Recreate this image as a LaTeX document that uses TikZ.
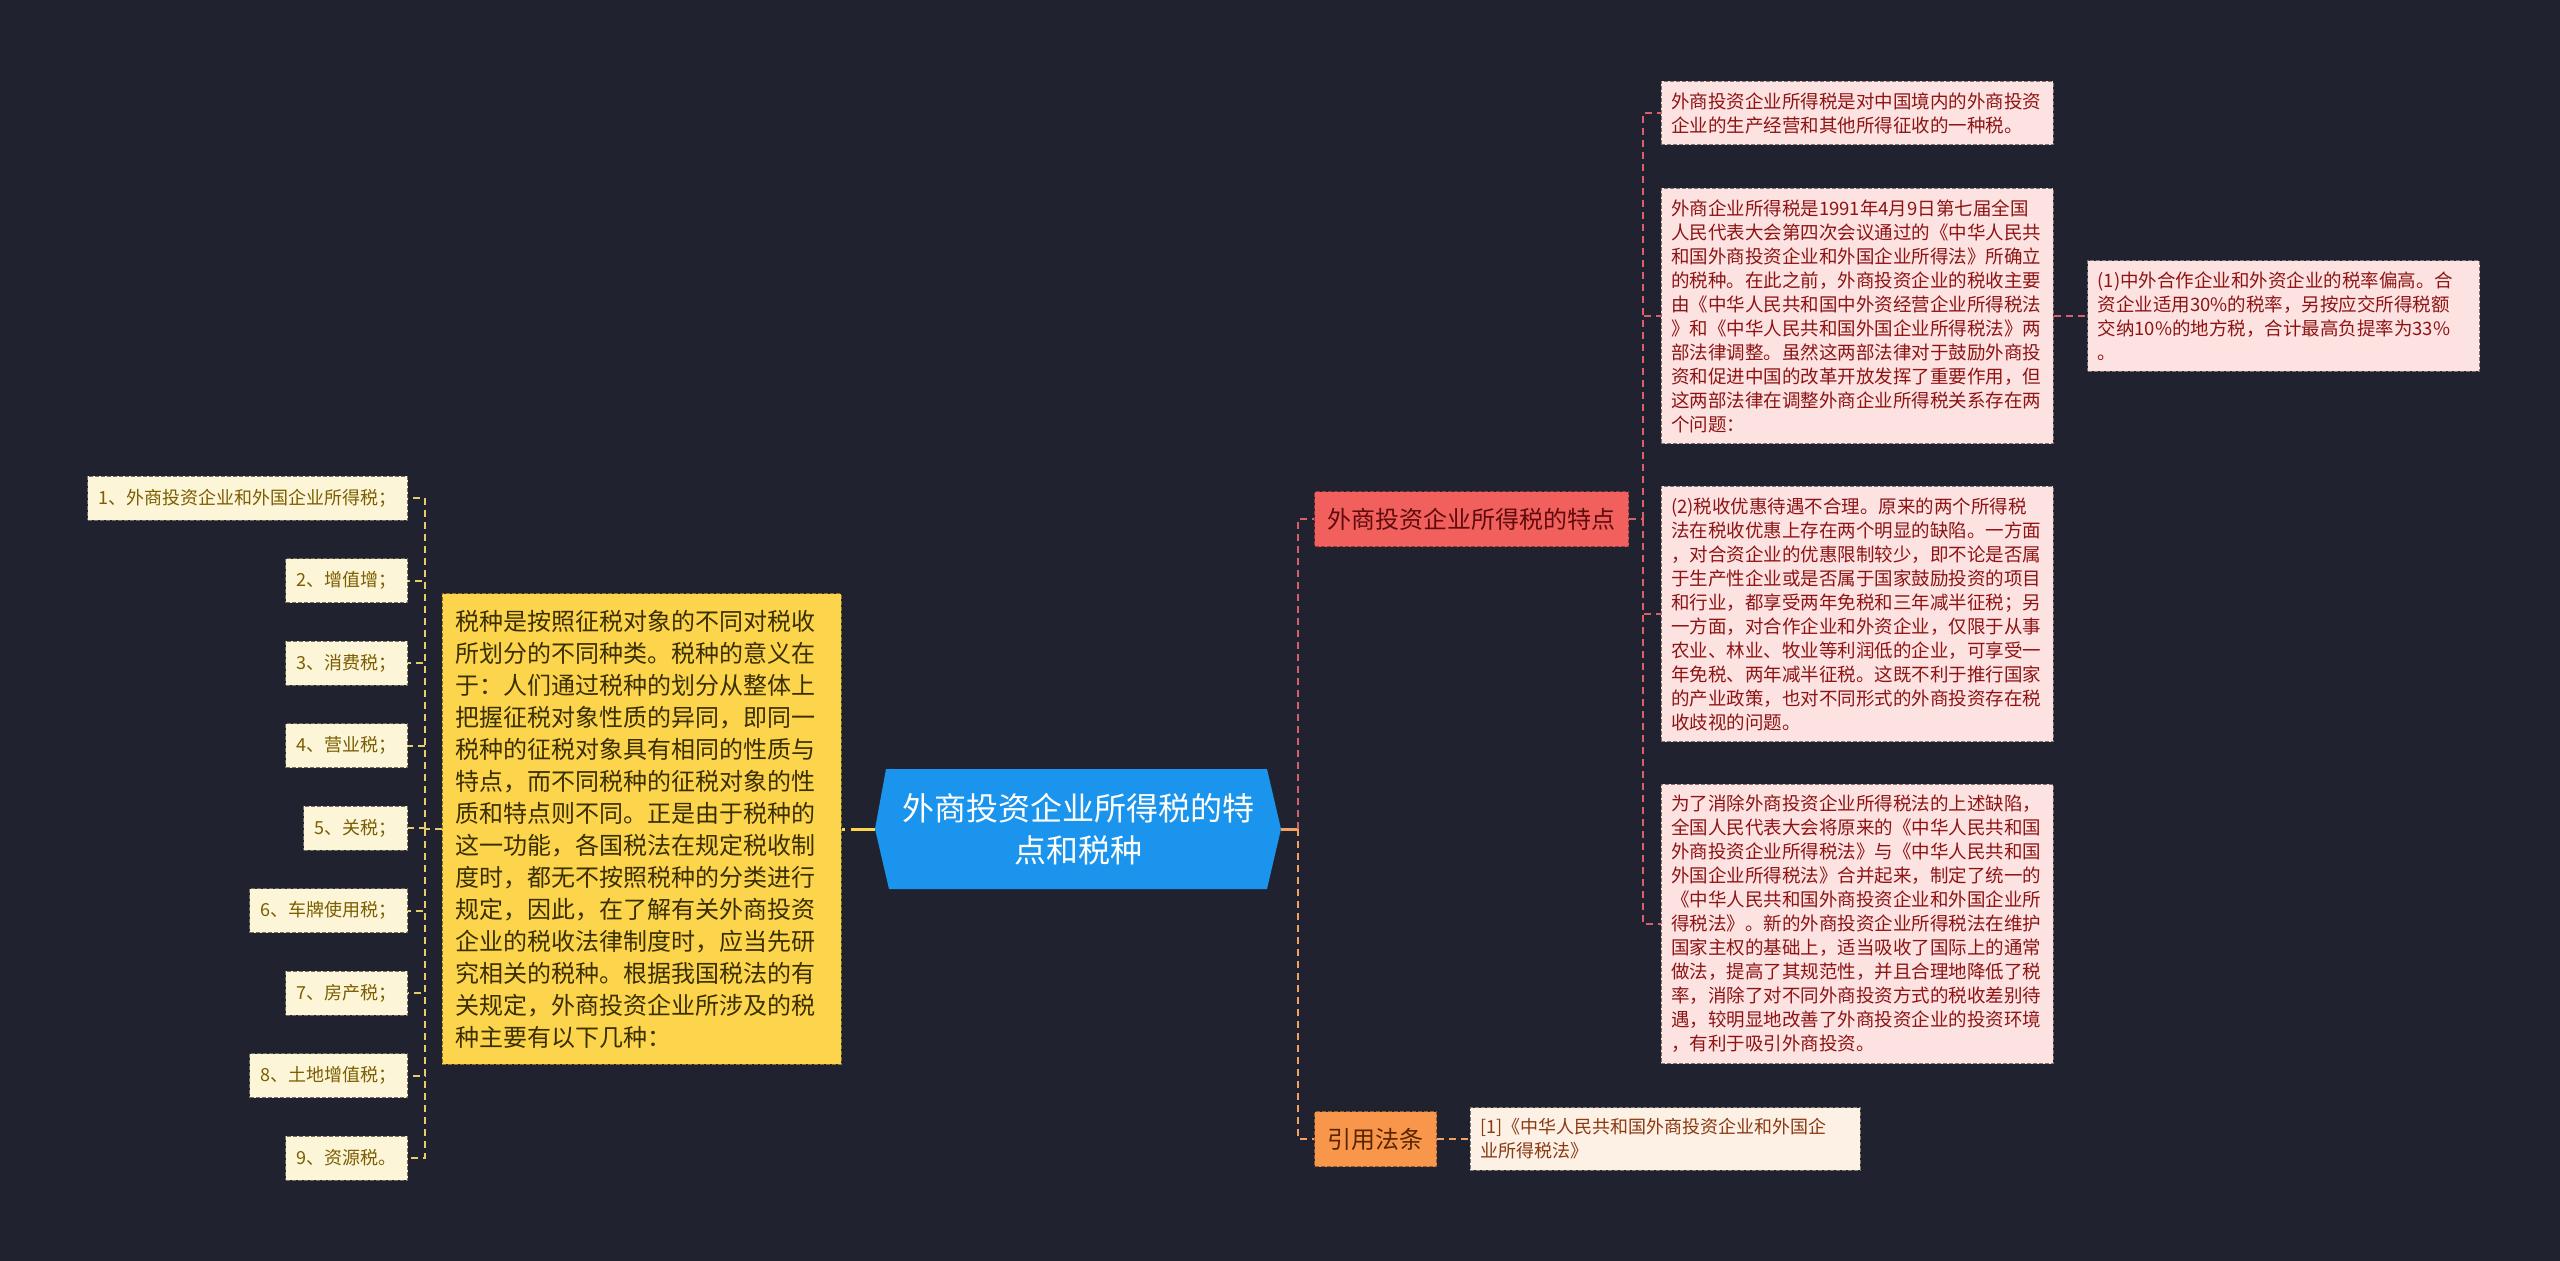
\documentclass[tikz,border=0pt]{standalone}
\usepackage{fontspec}
\setmainfont{Noto Sans CJK SC}
\definecolor{canvas}{HTML}{20232F}
\definecolor{rootblue}{HTML}{1A94EC}
\definecolor{kindyellow}{HTML}{FDD54C}
\definecolor{kindtext}{HTML}{3A2F00}
\definecolor{taxfill}{HTML}{FDF5D8}
\definecolor{taxtext}{HTML}{7A5E00}
\definecolor{featred}{HTML}{F2605E}
\definecolor{feattext}{HTML}{5E0B0B}
\definecolor{citeorange}{HTML}{F8964C}
\definecolor{citetext}{HTML}{5A2600}
\definecolor{notefill}{HTML}{FDE2E2}
\definecolor{notetext}{HTML}{8E1414}
\definecolor{reffill}{HTML}{FDF0E4}
\definecolor{reftext}{HTML}{8A3A12}
\definecolor{linkyellow}{HTML}{E8CB6A}
\definecolor{linkred}{HTML}{D9606A}
\definecolor{linkorange}{HTML}{F2A262}

\begin{document}
\begin{tikzpicture}[
  x=1pt,y=-1pt,
  box/.style={dash pattern=on 4pt off 2pt,line width=1pt,inner sep=0pt},
  rootnode/.style={minimum width=406pt,minimum height=120pt,inner sep=0pt,
    align=center,text=white,font=\fontsize{32}{42}\selectfont},
  kindbox/.style={box,draw=kindyellow!55!black,fill=kindyellow,text=kindtext,
    text width=373pt,inner xsep=13pt,inner ysep=16pt,align=left,
    font=\fontsize{24}{32}\selectfont},
  taxleaf/.style={box,draw=taxfill!45!black,fill=taxfill,text=taxtext,
    minimum height=44pt,inner xsep=11pt,font=\fontsize{18}{24}\selectfont},
  branch/.style={box,minimum height=55pt,inner xsep=13pt,font=\fontsize{24}{30}\selectfont},
  note/.style={box,draw=notefill!50!black,fill=notefill,text=notetext,
    text width=372pt,inner xsep=10pt,inner ysep=11pt,align=left,
    font=\fontsize{18.5}{24}\selectfont},
  refnote/.style={note,draw=reffill!50!black,fill=reffill,text=reftext,
    text width=370pt,font=\fontsize{18}{24}\selectfont},
  link/.style={line width=2pt,dash pattern=on 7pt off 5pt},
  trunk/.style={line width=3pt}
]
  \useasboundingbox[fill=canvas] (0,0) rectangle (2560,1261);

  % centre
  \node[rootnode,path picture={\fill[rootblue]
      ([xshift=11pt]path picture bounding box.north west) --
      ([xshift=-14pt]path picture bounding box.north east) --
      (path picture bounding box.east) --
      ([xshift=-14pt]path picture bounding box.south east) --
      ([xshift=14pt]path picture bounding box.south west) --
      (path picture bounding box.west) -- cycle;}]
    (root) at (1078,829) {外商投资企业所得税的特\\点和税种};

  % left side: kinds of tax
  \node[kindbox] (kinds) at (641.5,829) {税种是按照征税对象的不同对税收\\所划分的不同种类。税种的意义在\\于：人们通过税种的划分从整体上\\把握征税对象性质的异同，即同一\\税种的征税对象具有相同的性质与\\特点，而不同税种的征税对象的性\\质和特点则不同。正是由于税种的\\这一功能，各国税法在规定税收制\\度时，都无不按照税种的分类进行\\规定，因此，在了解有关外商投资\\企业的税收法律制度时，应当先研\\究相关的税种。根据我国税法的有\\关规定，外商投资企业所涉及的税\\种主要有以下几种：};
  \foreach \txt [count=\k] in {1、外商投资企业和外国企业所得税；,2、增值增；,3、消费税；,
      4、营业税；,5、关税；,6、车牌使用税；,7、房产税；,8、土地增值税；,9、资源税。}
    \node[taxleaf,anchor=east] (tax\k) at (408,{415.5+82.5*\k}) {\txt};

  \coordinate (lj) at (425,829);
  \draw[trunk,kindyellow,dash pattern=on 24pt off 6pt] (root.west) -- (kinds);
  \draw[link,linkyellow] (kinds) -- (lj);
  \foreach \k in {1,...,9}
    \draw[link,linkyellow] (lj) |- (tax\k);

  % right side: branches
  \node[branch,draw=featred!60!black,fill=featred,text=feattext,anchor=west]
    (feat) at (1314,519) {外商投资企业所得税的特点};
  \node[branch,draw=citeorange!60!black,fill=citeorange,text=citetext,anchor=west]
    (cite) at (1314,1139) {引用法条};

  \coordinate (rj) at (1298,829);
  \draw[trunk,linkorange] (root.east) -- (rj);
  \draw[link,linkred] (rj) |- (feat);
  \draw[link,linkorange] (rj) |- (cite);

  % features
  \node[note] (define) at (1857,113) {外商投资企业所得税是对中国境内的外商投资\\企业的生产经营和其他所得征收的一种税。};
  \node[note] (origin) at (1857,316) {外商企业所得税是1991年4月9日第七届全国\\人民代表大会第四次会议通过的《中华人民共\\和国外商投资企业和外国企业所得法》所确立\\的税种。在此之前，外商投资企业的税收主要\\由《中华人民共和国中外资经营企业所得税法\\》和《中华人民共和国外国企业所得税法》两\\部法律调整。虽然这两部法律对于鼓励外商投\\资和促进中国的改革开放发挥了重要作用，但\\这两部法律在调整外商企业所得税关系存在两\\个问题：};
  \node[note] (rate) at (2283.5,316) {(1)中外合作企业和外资企业的税率偏高。合\\资企业适用30\%的税率，另按应交所得税额\\交纳10\%的地方税，合计最高负提率为33\%\\。};
  \node[note] (favour) at (1857,614) {(2)税收优惠待遇不合理。原来的两个所得税\\法在税收优惠上存在两个明显的缺陷。一方面\\，对合资企业的优惠限制较少，即不论是否属\\于生产性企业或是否属于国家鼓励投资的项目\\和行业，都享受两年免税和三年减半征税；另\\一方面，对合作企业和外资企业，仅限于从事\\农业、林业、牧业等利润低的企业，可享受一\\年免税、两年减半征税。这既不利于推行国家\\的产业政策，也对不同形式的外商投资存在税\\收歧视的问题。};
  \node[note] (merge) at (1857,924) {为了消除外商投资企业所得税法的上述缺陷，\\全国人民代表大会将原来的《中华人民共和国\\外商投资企业所得税法》与《中华人民共和国\\外国企业所得税法》合并起来，制定了统一的\\《中华人民共和国外商投资企业和外国企业所\\得税法》。新的外商投资企业所得税法在维护\\国家主权的基础上，适当吸收了国际上的通常\\做法，提高了其规范性，并且合理地降低了税\\率，消除了对不同外商投资方式的税收差别待\\遇，较明显地改善了外商投资企业的投资环境\\，有利于吸引外商投资。};

  \coordinate (fj) at (1643,519);
  \draw[link,linkred] (feat) -- (fj);
  \foreach \n in {define,origin,favour,merge}
    \draw[link,linkred] (fj) |- (\n);
  \draw[link,linkred] (origin) -- (rate);

  % law reference
  \node[refnote] (lawref) at (1665,1139) {[1]《中华人民共和国外商投资企业和外国企\\业所得税法》};
  \draw[link,linkorange] (cite) -- (lawref);
\end{tikzpicture}
\end{document}
